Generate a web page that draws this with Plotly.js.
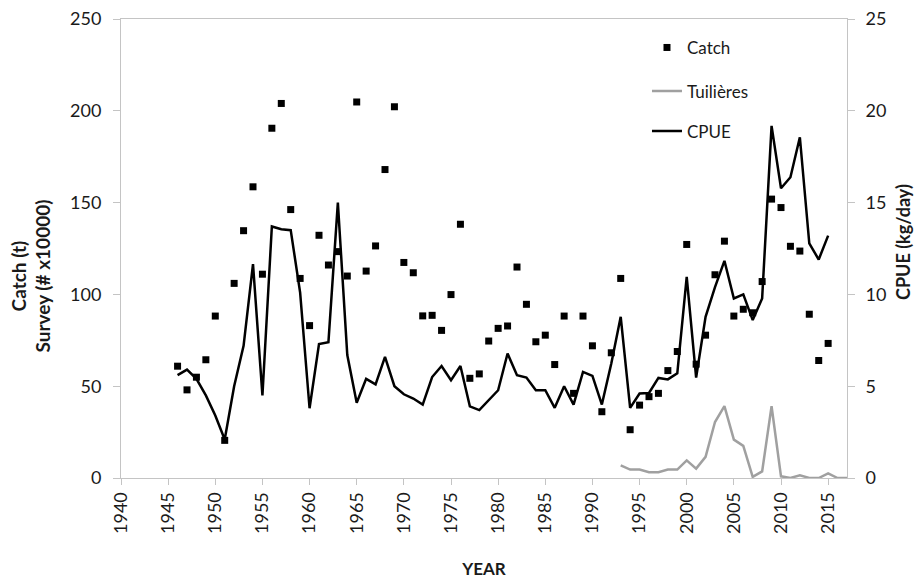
<!DOCTYPE html>
<html>
<head>
<meta charset="utf-8">
<script src="https://cdn.plot.ly/plotly-3.0.1.min.js"></script>
<style>html,body{margin:0;padding:0;background:#fff;}#chart{width:917px;height:579px;}</style>
</head>
<body>
<div id="chart"></div>
<script>
const catchYears = [1946,1947,1948,1949,1950,1951,1952,1953,1954,1955,1956,1957,1958,1959,1960,1961,1962,1963,1964,1965,1966,1967,1968,1969,1970,1971,1972,1973,1974,1975,1976,1977,1978,1979,1980,1981,1982,1983,1984,1985,1986,1987,1988,1989,1990,1991,1992,1993,1994,1995,1996,1997,1998,1999,2000,2001,2002,2003,2004,2005,2006,2007,2008,2009,2010,2011,2012,2013,2014,2015];
const catchValues = [60.9,48,54.9,64.4,88.2,20.5,106,134.7,158.6,111,190.5,204,146.2,108.7,83,132.2,116,123.3,110,204.8,112.7,126.4,168,202.2,117.4,111.8,88.3,88.6,80.4,99.9,138.2,54.3,56.7,74.6,81.5,82.8,114.9,94.6,74.2,77.8,61.8,88.2,46.1,88.2,72,36.1,68.2,108.7,26.3,39.7,44.3,46.1,58.5,68.9,127.2,62,77.8,110.7,129,88.2,91.9,90,107,151.9,147.3,126.2,123.6,89.2,64,73.3];

const cpueYears = [1946,1947,1948,1949,1950,1951,1952,1953,1954,1955,1956,1957,1958,1959,1960,1961,1962,1963,1964,1965,1966,1967,1968,1969,1970,1971,1972,1973,1974,1975,1976,1977,1978,1979,1980,1981,1982,1983,1984,1985,1986,1987,1988,1989,1990,1991,1992,1993,1994,1995,1996,1997,1998,1999,2000,2001,2002,2003,2004,2005,2006,2007,2008,2009,2010,2011,2012,2013,2014,2015];
const cpueValues = [5.6,5.9,5.4,4.5,3.4,2.1,5.0,7.2,11.65,4.5,13.7,13.55,13.5,10.1,3.8,7.3,7.4,15.0,6.7,4.1,5.4,5.1,6.6,5.0,4.56,4.33,4.0,5.5,6.1,5.33,6.1,3.9,3.7,4.27,4.78,6.78,5.6,5.47,4.78,4.78,3.82,5.0,4.0,5.78,5.56,4.0,6.24,8.78,3.82,4.6,4.63,5.45,5.37,5.7,10.96,5.47,8.78,10.4,11.83,9.78,10.0,8.6,9.78,19.18,15.78,16.38,18.56,12.78,11.9,13.2];

const tuilYears = [1993,1994,1995,1996,1997,1998,1999,2000,2001,2002,2003,2004,2005,2006,2007,2008,2009,2010,2011,2012,2013,2014,2015,2016,2017];
const tuilValues = [6.9,4.6,4.6,3.1,3.1,4.6,4.6,9.6,5.1,11.5,30.5,39.1,20.9,17.5,0.6,3.6,39.1,0.9,0,1.5,0,0,2.5,0,0];

const leftTitle = 'Catch (t)<br>Survey (# x10000)';
const rightTitle = 'CPUE (kg/day)';
const xTitle = 'YEAR';

const FONT = 'Lato, "Open Sans", "DejaVu Sans", sans-serif';
const AXC = '#c4c4c4';
const TXT = '#1a1a1a';

const traces = [
  {x: catchYears, y: catchValues, name: 'Catch', type: 'scatter', mode: 'markers',
   marker: {symbol: 'square', size: 7, color: '#000'}, yaxis: 'y', legend: 'legend'},
  {x: tuilYears, y: tuilValues, name: 'Tuilières', type: 'scatter', mode: 'lines',
   line: {color: '#a0a0a0', width: 2.5}, yaxis: 'y', legend: 'legend2'},
  {x: cpueYears, y: cpueValues, name: 'CPUE', type: 'scatter', mode: 'lines',
   line: {color: '#000', width: 2.5}, yaxis: 'y2', legend: 'legend3'}
];

const legendBase = {xref: 'paper', yref: 'paper', x: 0.7245, xanchor: 'left', yanchor: 'middle',
  bgcolor: 'rgba(0,0,0,0)', font: {family: FONT, size: 17, color: TXT}};

const layout = {
  width: 917, height: 579,
  margin: {l: 121, r: 70, t: 19, b: 101},
  paper_bgcolor: '#fff', plot_bgcolor: '#fff',
  font: {family: FONT, color: TXT},
  showlegend: true,
  legend: Object.assign({}, legendBase, {y: 0.937}),
  legend2: Object.assign({}, legendBase, {y: 0.842}),
  legend3: Object.assign({}, legendBase, {y: 0.755}),
  xaxis: {
    range: [1940, 2017], tick0: 1940, dtick: 5, tickangle: -90,
    showgrid: false, zeroline: false, showline: true, linecolor: AXC, linewidth: 1, mirror: true,
    ticks: 'outside', ticklen: 6, tickcolor: AXC,
    tickfont: {family: FONT, size: 18, color: TXT},
    title: {text: '<b>' + xTitle + '</b>', font: {family: FONT, size: 17, color: TXT}, standoff: 30}
  },
  yaxis: {
    range: [0, 250], dtick: 50, showgrid: false, zeroline: false,
    showline: true, linecolor: AXC, linewidth: 1,
    ticks: 'outside', ticklen: 7, tickcolor: AXC, ticklabelstandoff: 8,
    tickfont: {family: FONT, size: 18, color: TXT}
  },
  yaxis2: {
    range: [0, 25], dtick: 5, overlaying: 'y', side: 'right', showgrid: false, zeroline: false,
    showline: true, linecolor: AXC, linewidth: 1,
    ticks: 'outside', ticklen: 7, tickcolor: AXC, ticklabelstandoff: 7,
    tickfont: {family: FONT, size: 18, color: TXT}
  },
  annotations: [
    {text: '<b>' + leftTitle + '</b>', xref: 'paper', yref: 'paper', x: (30.5 - 121) / 726, y: (478 - 276) / 459,
     xanchor: 'center', yanchor: 'middle', textangle: -90, showarrow: false,
     font: {family: FONT, size: 19, color: TXT}},
    {text: '<b>' + rightTitle + '</b>', xref: 'paper', yref: 'paper', x: (903 - 121) / 726, y: (478 - 242) / 459,
     xanchor: 'center', yanchor: 'middle', textangle: -90, showarrow: false,
     font: {family: FONT, size: 18, color: TXT}}
  ]
};

Plotly.newPlot('chart', traces, layout, {displayModeBar: false, staticPlot: true});
</script>
</body>
</html>
